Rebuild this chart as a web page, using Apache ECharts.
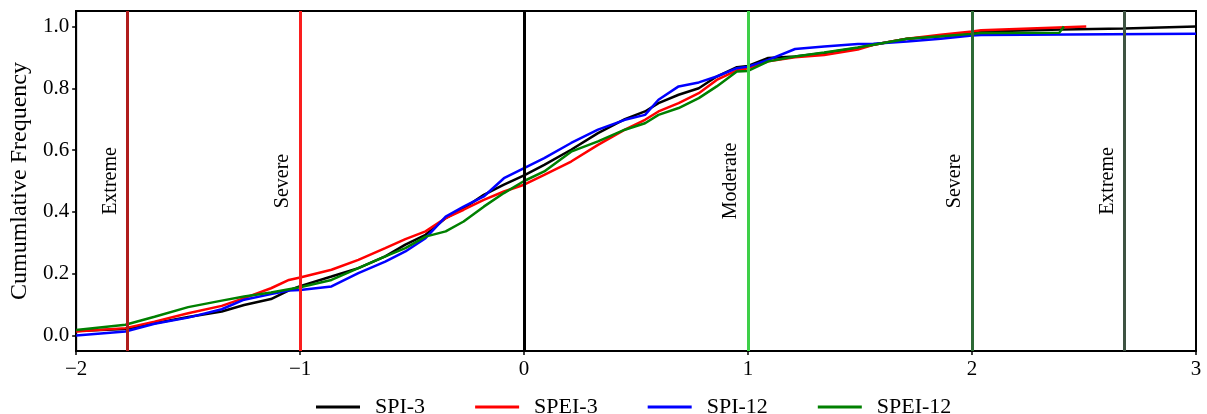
<!DOCTYPE html>
<html>
<head>
<meta charset="utf-8">
<script src="https://cdn.jsdelivr.net/npm/echarts@6/dist/echarts.min.js"></script>
<style>
    html, body { margin: 0; padding: 0; background: #fff; }
    #main { width: 1207px; height: 414px; }
</style>
</head>
<body>
<div id="main"></div>
<script>
// index values where the curves were read
var xGrid = [-2.0, -1.78, -1.65, -1.5, -1.35, -1.25, -1.13, -1.05, -1.0, -0.86, -0.74, -0.62, -0.53,
    -0.44, -0.35, -0.27, -0.18, -0.09, 0.0, 0.09, 0.21, 0.33, 0.45, 0.54, 0.6, 0.69, 0.78, 0.86,
    0.95, 1.0, 1.09, 1.21, 1.34, 1.49, 1.56, 1.71, 1.86, 2.0];

// cumulative frequency of each index on xGrid
var spi3 = [0.015, 0.021, 0.04, 0.06, 0.078, 0.099, 0.118, 0.146, 0.16, 0.191, 0.218, 0.256, 0.294,
    0.326, 0.38, 0.412, 0.455, 0.488, 0.518, 0.552, 0.601, 0.655, 0.70, 0.725, 0.752, 0.779, 0.80, 0.838,
    0.868, 0.872, 0.898, 0.903, 0.914, 0.93, 0.941, 0.96, 0.968, 0.976];
var spei3 = [0.013, 0.024, 0.045, 0.072, 0.096, 0.121, 0.153, 0.18, 0.188, 0.213, 0.245, 0.283, 0.312,
    0.337, 0.38, 0.407, 0.439, 0.466, 0.488, 0.52, 0.563, 0.617, 0.666, 0.698, 0.725, 0.752, 0.784, 0.827,
    0.858, 0.865, 0.887, 0.90, 0.908, 0.925, 0.941, 0.96, 0.973, 0.984];
var spi12 = [0.0, 0.013, 0.038, 0.058, 0.085, 0.116, 0.134, 0.146, 0.147, 0.159, 0.202, 0.239, 0.272,
    0.315, 0.385, 0.417, 0.45, 0.509, 0.542, 0.574, 0.623, 0.666, 0.698, 0.714, 0.763, 0.806, 0.819, 0.838,
    0.865, 0.87, 0.892, 0.927, 0.935, 0.943, 0.944, 0.951, 0.96, 0.971];
var spei12 = [0.018, 0.035, 0.061, 0.092, 0.113, 0.126, 0.139, 0.15, 0.156, 0.18, 0.218, 0.256, 0.283,
    0.32, 0.337, 0.369, 0.417, 0.461, 0.50, 0.531, 0.595, 0.628, 0.666, 0.687, 0.714, 0.736, 0.768, 0.806,
    0.854, 0.856, 0.887, 0.903, 0.916, 0.932, 0.941, 0.96, 0.968, 0.976];

// upper tails, each curve ends at a different place
var spi3TailX = [2.04, 2.4, 2.68, 3.0];
var spi3TailY = [0.984, 0.99, 0.993, 1.0];
var spei3TailX = [2.04, 2.51];
var spei3TailY = [0.988, 1.0];
var spi12TailX = [2.04, 3.0];
var spi12TailY = [0.972, 0.976];
var spei12TailX = [2.04, 2.39, 2.41];
var spei12TailY = [0.979, 0.98, 1.0];

// drought / wetness class limits
var classX = [-1.77, -1, 0, 1, 2, 2.68];
var classNames = ['Extreme', 'Severe', '', 'Moderate', 'Severe', 'Extreme'];
var classColors = ['#b01c1c', '#fa1e1e', '#000000', '#3ecf48', '#2d6a35', '#3e5342'];

var seriesNames = ['SPI-3', 'SPEI-3', 'SPI-12', 'SPEI-12'];
var seriesColors = ['#000000', '#ff0000', '#0000ff', '#008000'];

var font = 'Liberation Serif';

function toPoints(xs, ys, tailX, tailY) {
    var pts = [];
    for (var i = 0; i < xs.length; i++) pts.push([xs[i], ys[i]]);
    for (var j = 0; j < tailX.length; j++) pts.push([tailX[j], tailY[j]]);
    return pts;
}

var curves = [
    toPoints(xGrid, spi3, spi3TailX, spi3TailY),
    toPoints(xGrid, spei3, spei3TailX, spei3TailY),
    toPoints(xGrid, spi12, spi12TailX, spi12TailY),
    toPoints(xGrid, spei12, spei12TailX, spei12TailY)
];

var series = [];
curves.forEach(function(pts, i) {
    series.push({
        name: seriesNames[i],
        type: 'line',
        data: pts,
        symbol: 'none',
        smooth: false,
        lineStyle: { color: seriesColors[i], width: 2.5 },
        itemStyle: { color: seriesColors[i] },
        z: 2
    });
});

// vertical class lines on top of the curves
var markData = classX.map(function(v, i) {
    return {
        xAxis: v,
        lineStyle: { color: classColors[i], width: 3, type: 'solid' },
        label: {
            show: classNames[i] !== '',
            formatter: classNames[i],
            position: 'insideMiddleTop',
            distance: 7,
            color: '#000',
            fontFamily: font,
            fontSize: 20
        }
    };
});
series.push({
    type: 'line',
    data: [],
    silent: true,
    z: 5,
    markLine: {
        symbol: 'none',
        silent: true,
        animation: false,
        data: markData
    }
});

var chart = echarts.init(document.getElementById('main'));
chart.setOption({
    animation: false,
    textStyle: { fontFamily: font },
    grid: {
        left: 74, right: 11, top: 11, bottom: 63,
        show: true,
        borderColor: '#000',
        borderWidth: 2
    },
    legend: {
        data: seriesNames,
        icon: 'rect',
        left: 311,
        top: 391,
        itemWidth: 44,
        itemHeight: 3,
        itemGap: 50,
        textStyle: { fontFamily: font, fontSize: 22, color: '#000', padding: [0, 0, 0, 10] }
    },
    xAxis: {
        type: 'value',
        min: -2,
        max: 3,
        interval: 1,
        axisLine: { onZero: false, lineStyle: { color: '#000', width: 2 } },
        axisTick: { show: true, length: 4, lineStyle: { color: '#000', width: 1.5 } },
        splitLine: { show: false },
        axisLabel: {
            color: '#000',
            fontFamily: font,
            fontSize: 21,
            margin: 8,
            formatter: function(v) { return String(v).replace('-', '\u2212'); }
        }
    },
    yAxis: {
        type: 'value',
        min: -0.05,
        max: 1.05,
        splitNumber: 5,
        name: 'Cumumlative Frequency',
        nameLocation: 'middle',
        nameRotate: 90,
        nameGap: 42,
        nameTextStyle: { color: '#000', fontFamily: font, fontSize: 24 },
        axisLine: { onZero: false, lineStyle: { color: '#000', width: 2 } },
        axisTick: { show: true, length: 4, lineStyle: { color: '#000', width: 1.5 } },
        splitLine: { show: false },
        axisLabel: {
            color: '#000',
            fontFamily: font,
            fontSize: 21,
            margin: 7,
            showMinLabel: false,
            showMaxLabel: false,
            formatter: function(v) { return v.toFixed(1); }
        }
    },
    series: series
});
</script>
</body>
</html>
